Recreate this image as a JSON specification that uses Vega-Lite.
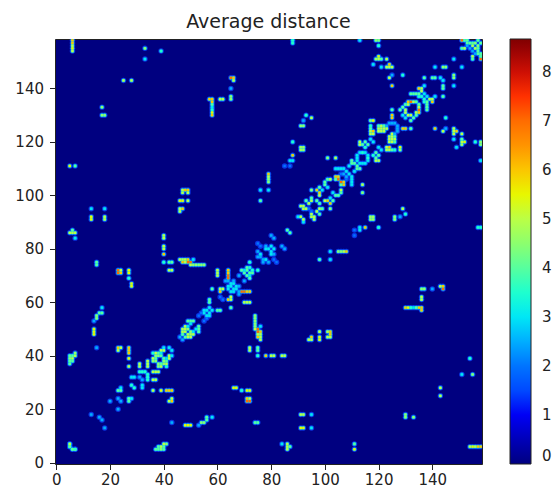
{"$schema":"https://vega.github.io/schema/vega-lite/v6.json","width":427,"height":425,"autosize":{"type":"none"},"padding":{"left":55,"top":39,"right":74,"bottom":29},"background":"white","title":{"text":"Average distance","font":"DejaVu Sans","fontSize":19,"fontWeight":"normal","color":"#222","offset":7,"anchor":"middle"},"view":{"fill":"#000080","stroke":"#222","strokeWidth":1},
"datasets":{"d":[
{"a":6,"b":158,"v":6},{"a":6,"b":157,"v":6},{"a":6,"b":156,"v":5},{"a":6,"b":155,"v":5.5},{"a":6,"b":154,"v":5},{"a":33,"b":155,"v":4.5},{"a":39,"b":154,"v":3.5},{"a":33,"b":151,"v":3},{"a":25,"b":143,"v":5},{"a":28,"b":143,"v":5},{"a":17,"b":133,"v":4.5},{"a":17,"b":130,"v":4.5},{"a":18,"b":130,"v":4.5},{"a":5,"b":111,"v":5.5},{"a":7,"b":111,"v":4},{"a":88,"b":157,"v":3.5},{"a":88,"b":158,"v":3.5},
{"a":65,"b":144,"v":7},{"a":66,"b":144,"v":6},{"a":66,"b":143,"v":5},{"a":65,"b":140,"v":2.5},{"a":65,"b":137,"v":4.5},{"a":65,"b":136,"v":4.5},{"a":61,"b":136,"v":5},{"a":62,"b":136,"v":5},{"a":57,"b":136,"v":6},{"a":58,"b":136,"v":6},{"a":58,"b":135,"v":6},{"a":58,"b":134,"v":4},{"a":58,"b":133,"v":3},{"a":58,"b":132,"v":3.5},{"a":58,"b":131,"v":5.5},{"a":58,"b":130,"v":6},
{"a":93,"b":130,"v":3.5},{"a":95,"b":129,"v":5},{"a":92,"b":128,"v":2.5},{"a":91,"b":126,"v":4.5},{"a":92,"b":126,"v":4.5},{"a":88,"b":120,"v":3.5},{"a":91,"b":117,"v":4.7},{"a":92,"b":117,"v":4.7},{"a":91,"b":118,"v":4.7},{"a":92,"b":118,"v":4.7},{"a":88,"b":115,"v":6},{"a":87,"b":113,"v":3},{"a":88,"b":113,"v":3},{"a":85,"b":111,"v":2},{"a":87,"b":111,"v":2},{"a":79,"b":105,"v":4.5},{"a":79,"b":106,"v":4.5},{"a":79,"b":107,"v":5},{"a":79,"b":108,"v":6},{"a":101,"b":114,"v":4.5},{"a":104,"b":114,"v":5},{"a":104,"b":110,"v":3},
{"a":113,"b":158,"v":3},{"a":119,"b":158,"v":4.5},{"a":120,"b":158,"v":4.5},{"a":120,"b":156,"v":3.5},{"a":120,"b":152,"v":5.5},{"a":119,"b":151,"v":4.7},{"a":120,"b":151,"v":5},{"a":121,"b":151,"v":4},{"a":123,"b":151,"v":5},{"a":118,"b":149,"v":3},{"a":121,"b":148,"v":3},{"a":123,"b":148,"v":5},{"a":124,"b":148,"v":5},{"a":125,"b":148,"v":5},{"a":124,"b":149,"v":6},{"a":148,"b":151,"v":3},{"a":141,"b":148,"v":3},{"a":144,"b":148,"v":4.5},{"a":145,"b":148,"v":4.5},{"a":129,"b":145,"v":3.5},{"a":125,"b":145,"v":2.5},{"a":124,"b":144,"v":5},{"a":137,"b":144,"v":4},{"a":140,"b":144,"v":4},{"a":141,"b":144,"v":4},{"a":143,"b":144,"v":3},{"a":125,"b":141,"v":6},
{"a":151,"b":155,"v":4},{"a":152,"b":155,"v":5},{"a":154,"b":155,"v":2.5},{"a":153,"b":157,"v":4},{"a":154,"b":157,"v":4},{"a":155,"b":157,"v":4},{"a":156,"b":157,"v":4.5},{"a":155,"b":156,"v":5},{"a":151,"b":158,"v":7},{"a":152,"b":158,"v":4},{"a":153,"b":158,"v":4},{"a":157,"b":158,"v":4},{"a":153,"b":156,"v":2.5},
{"a":135,"b":140,"v":6},{"a":136,"b":140,"v":5},{"a":137,"b":141,"v":3},{"a":136,"b":139,"v":5},{"a":137,"b":138,"v":3},{"a":132,"b":138,"v":4},{"a":133,"b":138,"v":4},{"a":134,"b":138,"v":4},{"a":135,"b":138,"v":4},{"a":135,"b":137,"v":3.5},{"a":136,"b":137,"v":3.5},{"a":125,"b":132,"v":4},{"a":125,"b":130,"v":6},{"a":125,"b":129,"v":6},{"a":129,"b":133,"v":4},{"a":128,"b":132,"v":4},{"a":129,"b":130,"v":3},{"a":130,"b":132,"v":5},{"a":130,"b":131,"v":5},
{"a":117,"b":128,"v":4.5},{"a":118,"b":128,"v":5.5},{"a":113,"b":119,"v":5},{"a":113,"b":120,"v":5},{"a":115,"b":120,"v":4},{"a":116,"b":119,"v":4},{"a":117,"b":121,"v":3},{"a":118,"b":120,"v":3},{"a":117,"b":123,"v":5},{"a":117,"b":124,"v":5},{"a":117,"b":125,"v":4},{"a":118,"b":124,"v":6},{"a":118,"b":123,"v":5},{"a":117,"b":126,"v":3.5},
{"a":120,"b":125,"v":5},{"a":120,"b":126,"v":4},{"a":121,"b":125,"v":5},{"a":120,"b":124,"v":5},{"a":121,"b":124,"v":5},{"a":122,"b":124,"v":5},{"a":122,"b":126,"v":4},{"a":123,"b":125,"v":5},{"a":122,"b":125,"v":5},{"a":121,"b":126,"v":5},{"a":124,"b":127,"v":2.5},{"a":125,"b":127,"v":2.5},{"a":126,"b":127,"v":2.5},{"a":123,"b":126,"v":2.5},
{"a":131,"b":135,"v":6},{"a":132,"b":135,"v":7},{"a":133,"b":135,"v":5},{"a":131,"b":134,"v":5},{"a":130,"b":134,"v":4},{"a":134,"b":135,"v":4},
{"a":112,"b":115,"v":3},{"a":113,"b":116,"v":3},{"a":114,"b":116,"v":3.5},{"a":115,"b":116,"v":3},{"a":112,"b":114,"v":3},{"a":112,"b":113,"v":3},{"a":110,"b":112,"v":4},{"a":111,"b":112,"v":4},{"a":110,"b":113,"v":4},{"a":115,"b":118,"v":3.5},{"a":114,"b":119,"v":4},
{"a":105,"b":110,"v":3},{"a":106,"b":110,"v":3},{"a":107,"b":110,"v":3},{"a":108,"b":109,"v":3},{"a":109,"b":111,"v":3},{"a":104,"b":107,"v":6},{"a":105,"b":107,"v":6},{"a":104,"b":106,"v":4},{"a":100,"b":105,"v":4},{"a":101,"b":106,"v":4},{"a":102,"b":106,"v":5},{"a":100,"b":104,"v":4},{"a":101,"b":103,"v":3},{"a":105,"b":106,"v":7},{"a":106,"b":108,"v":2},{"a":107,"b":108,"v":2.5},
{"a":93,"b":98,"v":4},{"a":95,"b":99,"v":4},{"a":97,"b":98,"v":4},{"a":91,"b":96,"v":5},{"a":92,"b":95,"v":5},{"a":94,"b":95,"v":2},{"a":90,"b":92,"v":3},{"a":91,"b":92,"v":5},{"a":93,"b":95,"v":5},{"a":92,"b":96,"v":5},{"a":95,"b":98,"v":5},{"a":94,"b":97,"v":5},{"a":97,"b":102,"v":6},{"a":98,"b":103,"v":4},{"a":98,"b":100,"v":5},{"a":98,"b":101,"v":6},{"a":99,"b":102,"v":3},{"a":95,"b":102,"v":4.5},{"a":86,"b":87,"v":4},
{"a":76,"b":102,"v":3},{"a":79,"b":102,"v":3},{"a":76,"b":98,"v":4},{"a":47,"b":102,"v":5},{"a":48,"b":102,"v":6},{"a":49,"b":102,"v":6},{"a":47,"b":101,"v":5},{"a":49,"b":101,"v":5},{"a":46,"b":98,"v":5.5},{"a":47,"b":98,"v":5.5},{"a":49,"b":98,"v":5},{"a":47,"b":95,"v":6},{"a":46,"b":95,"v":5},{"a":46,"b":94,"v":5},
{"a":13,"b":95,"v":3},{"a":18,"b":95,"v":3},{"a":13,"b":92,"v":5.5},{"a":13,"b":91,"v":5.5},{"a":18,"b":92,"v":5},{"a":18,"b":91,"v":5},{"a":6,"b":87,"v":4},{"a":5,"b":86,"v":5},{"a":6,"b":86,"v":5},{"a":7,"b":86,"v":5},{"a":7,"b":84,"v":3},
{"a":40,"b":85,"v":5},{"a":40,"b":84,"v":5},{"a":40,"b":81,"v":5},{"a":40,"b":80,"v":5},{"a":40,"b":78,"v":6},{"a":40,"b":75,"v":3.5},{"a":42,"b":75,"v":4},{"a":43,"b":75,"v":4},{"a":42,"b":72,"v":5},{"a":43,"b":72,"v":5},{"a":15,"b":75,"v":4},{"a":15,"b":74,"v":4},{"a":23,"b":72,"v":7},{"a":24,"b":72,"v":5},{"a":23,"b":71,"v":7},{"a":24,"b":71,"v":6},{"a":27,"b":72,"v":5.5},{"a":27,"b":71,"v":5.5},{"a":27,"b":69,"v":3.5},{"a":28,"b":67,"v":5.5},{"a":28,"b":66,"v":5.5},
{"a":46,"b":76,"v":5},{"a":47,"b":76,"v":5},{"a":48,"b":76,"v":5},{"a":49,"b":76,"v":6},{"a":47,"b":75,"v":6},{"a":49,"b":75,"v":7},{"a":50,"b":75,"v":7},{"a":50,"b":74,"v":5},{"a":51,"b":76,"v":3},{"a":52,"b":74,"v":4.5},{"a":53,"b":74,"v":4.5},{"a":54,"b":74,"v":4.5},{"a":55,"b":74,"v":4.5},
{"a":60,"b":70,"v":5},{"a":60,"b":71,"v":5},{"a":60,"b":72,"v":5},{"a":64,"b":69,"v":7},{"a":64,"b":70,"v":7},{"a":64,"b":71,"v":6},{"a":64,"b":72,"v":6},{"a":80,"b":85,"v":2.5},{"a":75,"b":82,"v":2},{"a":78,"b":81,"v":2.5},{"a":78,"b":80,"v":3},{"a":79,"b":80,"v":3},{"a":80,"b":81,"v":3},{"a":75,"b":79,"v":2.5},{"a":81,"b":84,"v":2.5},{"a":75,"b":77,"v":2.5},{"a":76,"b":77,"v":2.5},{"a":76,"b":78,"v":3},{"a":76,"b":81,"v":2},{"a":72,"b":75,"v":3.5},
{"a":71,"b":73,"v":4},{"a":72,"b":73,"v":3.5},{"a":69,"b":72,"v":4},{"a":70,"b":72,"v":3},{"a":68,"b":70,"v":2.5},{"a":70,"b":71,"v":4},{"a":71,"b":72,"v":4},{"a":63,"b":68,"v":2.5},{"a":58,"b":65,"v":4},{"a":61,"b":65,"v":5},{"a":62,"b":65,"v":5},{"a":61,"b":64,"v":6},{"a":65,"b":67,"v":3},{"a":65,"b":66,"v":3},{"a":64,"b":66,"v":3},{"a":64,"b":65,"v":3},{"a":66,"b":67,"v":3},{"a":66,"b":68,"v":2.5},{"a":64,"b":68,"v":2.5},{"a":61,"b":62,"v":2},{"a":57,"b":60,"v":4},{"a":57,"b":61,"v":4},{"a":55,"b":57,"v":3},{"a":56,"b":57,"v":3},{"a":57,"b":58,"v":3},{"a":55,"b":56,"v":3},{"a":54,"b":56,"v":2},{"a":53,"b":55,"v":2},
{"a":48,"b":75,"v":5},{"a":74,"b":51,"v":4.5},
{"a":48,"b":50,"v":5},{"a":49,"b":50,"v":4.5},{"a":48,"b":49,"v":5},{"a":47,"b":48,"v":4},{"a":46,"b":47,"v":2.5},{"a":48,"b":51,"v":5},{"a":47,"b":49,"v":5},{"a":47,"b":50,"v":5},{"a":49,"b":53,"v":4},{"a":50,"b":53,"v":4},{"a":51,"b":53,"v":4},{"a":50,"b":52,"v":3},{"a":49,"b":51,"v":3},
{"a":17,"b":58,"v":3},{"a":16,"b":56,"v":4},{"a":17,"b":56,"v":4},{"a":15,"b":55,"v":4.5},{"a":15,"b":54,"v":4.5},{"a":14,"b":53,"v":2.5},{"a":14,"b":50,"v":5.5},{"a":14,"b":49,"v":5.5},{"a":14,"b":48,"v":5.5},{"a":15,"b":43,"v":2.5},{"a":23,"b":43,"v":6},{"a":24,"b":43,"v":5},{"a":23,"b":42,"v":5},{"a":27,"b":43,"v":6},{"a":27,"b":42,"v":6},{"a":27,"b":41,"v":6},{"a":27,"b":39,"v":5.5},{"a":27,"b":36,"v":5},
{"a":5,"b":40,"v":4},{"a":6,"b":40,"v":4},{"a":7,"b":40,"v":5},{"a":5,"b":39,"v":4.5},{"a":6,"b":39,"v":5},{"a":5,"b":38,"v":4},{"a":6,"b":38,"v":4},{"a":5,"b":37,"v":4},{"a":41,"b":7,"v":4.5},
{"a":31,"b":37,"v":5},{"a":31,"b":36,"v":5},{"a":34,"b":38,"v":5},{"a":34,"b":37,"v":5},{"a":34,"b":36,"v":5},{"a":36,"b":41,"v":3.5},{"a":40,"b":42,"v":5},{"a":42,"b":43,"v":3},{"a":38,"b":41,"v":4},{"a":39,"b":42,"v":5},{"a":37,"b":39,"v":4},{"a":38,"b":40,"v":4.5},{"a":37,"b":40,"v":4.5},{"a":37,"b":38,"v":4.5},{"a":36,"b":39,"v":5},{"a":36,"b":38,"v":4.5},{"a":37,"b":41,"v":5},{"a":39,"b":41,"v":3},{"a":40,"b":43,"v":3},{"a":39,"b":40,"v":4},
{"a":31,"b":34,"v":3.5},{"a":32,"b":34,"v":3.5},{"a":33,"b":34,"v":3.5},{"a":31,"b":32,"v":2.5},{"a":29,"b":32,"v":3},{"a":28,"b":32,"v":3},{"a":28,"b":29,"v":3.5},{"a":23,"b":27,"v":4},{"a":24,"b":27,"v":4},{"a":24,"b":28,"v":3},{"a":23,"b":24,"v":2.5},{"a":20,"b":23,"v":2.5},{"a":13,"b":18,"v":2.5},{"a":16,"b":17,"v":2.5},{"a":5,"b":6,"v":4},{"a":5,"b":7,"v":3.5},{"a":6,"b":5,"v":4},{"a":7,"b":5,"v":5}
]},
"layer":[
{"data":{"name":"d"},"mark":{"type":"circle","size":30,"color":"#0a3cf5","opacity":0.85,"clip":true},"encoding":{"x":{"field":"a","type":"quantitative","scale":{"domain":[-0.5,158.5],"nice":false,"zero":false},"axis":{"title":null,"grid":false,"values":[0,5,10,15,20,25,30,35,40,45,50,55,60,65,70,75,80,85,90,95,100,105,110,115,120,125,130,135,140,145,150,155],"labelExpr":"datum.value%20==0?datum.label:''","tickSize":{"expr":"datum.value%20==0?5.5:3"},"tickColor":"#222","labelColor":"#222","domain":false,"labelFont":"DejaVu Sans","labelFontSize":15,"labelOverlap":false,"labelFlush":false,"labelPadding":3}},"y":{"field":"b","type":"quantitative","scale":{"domain":[-0.5,158.5],"nice":false,"zero":false},"axis":{"title":null,"grid":false,"values":[0,5,10,15,20,25,30,35,40,45,50,55,60,65,70,75,80,85,90,95,100,105,110,115,120,125,130,135,140,145,150,155],"labelExpr":"datum.value%20==0?datum.label:''","tickSize":{"expr":"datum.value%20==0?5.5:3"},"tickColor":"#222","labelColor":"#222","domain":false,"labelFont":"DejaVu Sans","labelFontSize":15,"labelOverlap":false,"labelPadding":6}}}},
{"data":{"name":"d"},"mark":{"type":"circle","size":30,"color":"#0a3cf5","opacity":0.85,"clip":true},"encoding":{"x":{"field":"b","type":"quantitative"},"y":{"field":"a","type":"quantitative"}}},
{"data":{"name":"d"},"mark":{"type":"circle","size":14,"color":"#08c8ee","clip":true},"encoding":{"x":{"field":"a","type":"quantitative"},"y":{"field":"b","type":"quantitative"},"opacity":{"field":"v","type":"quantitative","legend":null,"scale":{"domain":[2,3.5],"range":[0,1],"clamp":true}}}},
{"data":{"name":"d"},"mark":{"type":"circle","size":14,"color":"#08c8ee","clip":true},"encoding":{"x":{"field":"b","type":"quantitative"},"y":{"field":"a","type":"quantitative"},"opacity":{"field":"v","type":"quantitative","legend":null,"scale":{"domain":[2,3.5],"range":[0,1],"clamp":true}}}},
{"data":{"name":"d"},"mark":{"type":"square","size":6,"opacity":1,"filled":true,"clip":true},"encoding":{"x":{"field":"a","type":"quantitative"},"y":{"field":"b","type":"quantitative"},"color":{"field":"v","type":"quantitative","scale":{"domain":[0,8.67],"range":["#000080","#0000ff","#0080ff","#15ffe2","#7dff7a","#e4ff13","#ff9400","#ff1e00","#800000"]},"legend":{"title":null,"orient":"right","offset":28,"gradientLength":425,"gradientThickness":21,"values":[0,1,2,3,4,5,6,7,8],"labelFont":"DejaVu Sans","labelFontSize":15,"labelColor":"#222","labelOffset":11,"labelBaseline":"middle","gradientStrokeColor":"#222","gradientStrokeWidth":1,"padding":0,"tickCount":9}}}},
{"data":{"name":"d"},"mark":{"type":"square","size":6,"opacity":1,"filled":true,"clip":true},"encoding":{"x":{"field":"b","type":"quantitative"},"y":{"field":"a","type":"quantitative"},"color":{"field":"v","type":"quantitative"}}}
]}
